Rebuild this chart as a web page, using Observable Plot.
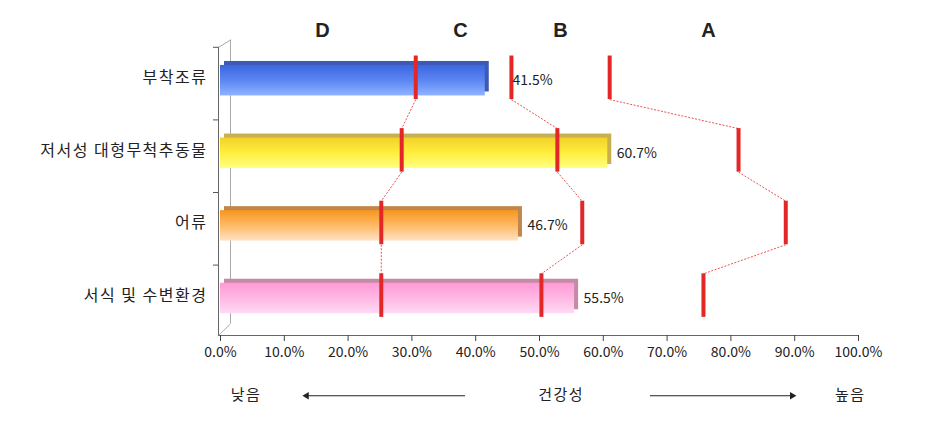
<!DOCTYPE html>
<html><head><meta charset="utf-8">
<script src="https://cdn.jsdelivr.net/npm/d3@7"></script>
<script src="https://cdn.jsdelivr.net/npm/@observablehq/plot@0.6"></script>
<style>
body{margin:0;background:#fff}
#chart svg{display:block}
#chart g[aria-label="y-axis tick label"] text{letter-spacing:1.5px}
#chart g.bottom-label text{letter-spacing:1.5px}
</style>
</head><body><div id="chart"></div>
<script>
// ---- data ----
const categories = ["부착조류", "저서성 대형무척추동물", "어류", "서식 및 수변환경"];
const values = [41.5, 60.7, 46.7, 55.5];
const boundDC = [30.6, 28.4, 25.2, 25.2];
const boundCB = [45.6, 52.8, 56.7, 50.3];
const boundBA = [61.0, 81.2, 88.6, 75.7];
const grades = ["D", "C", "B", "A"];
const gradeX = [16, 37.6, 53.3, 76.5];
const xTicks = [0, 10, 20, 30, 40, 50, 60, 70, 80, 90, 100];
const bottomLabels = ["낮음", "건강성", "높음"];
const bottomLabelX = [4.0, 53.4, 98.7];
const arrowLeft = [38.4, 13.5];
const arrowRight = [67.4, 89.6];

// ---- styles ----
const gradStops = [
  ["#3a66e0", "#5b86f2", "#90b2ff"],
  ["#f3d22a", "#ffee3c", "#ffff84"],
  ["#f7961e", "#ffb964", "#ffe2c6"],
  ["#ff9ad4", "#ffb8e4", "#ffdaf4"]
];
const sideColor = ["#3f5ab5", "#c9b04e", "#c0864a", "#c48aa6"];
const red = "#e32626";
const font = "'Noto Sans CJK KR', 'Noto Sans', sans-serif";

const rows = categories.map((c, i) => ({cat: c, i, value: values[i]}));
const bounds = [boundDC, boundCB, boundBA];
// keep a value label clear of a grade marker sitting just past the bar end
const labelX = d => {
  const b = boundCB[d.i];
  return (b > d.value && b - d.value < 6) ? b - 1.25 : d.value;
};

const marks = [];
// 3D wall
marks.push(Plot.ruleX([0], {y1: -0.52, y2: 3.39, dx: 10, stroke: "#aaa", strokeWidth: 1}));
marks.push(Plot.link([0], {x1: -0.3, y1: -0.42, x2: 1.57, y2: -0.52, stroke: "#aaa"}));
marks.push(Plot.link([0], {x1: -0.3, y1: 3.55, x2: 1.57, y2: 3.39, stroke: "#aaa"}));
marks.push(Plot.ruleX([0], {y1: -0.42, y2: 3.55, dx: -2, stroke: "#666", strokeWidth: 1}));
marks.push(Plot.ruleY([3.55], {x1: -0.3, x2: 100, stroke: "#666", strokeWidth: 1}));

// bars (back face offset for 3D look, then gradient front)
rows.forEach((r, i) => {
  marks.push(Plot.rectX([r], {x1: 0, x2: "value", y1: d => d.i - 0.17, y2: d => d.i + 0.25, dx: 4, dy: -4, fill: sideColor[i]}));
  marks.push(Plot.rectX([r], {x1: 0, x2: "value", y1: d => d.i - 0.17, y2: d => d.i + 0.25, fill: `url(#grad${i})`}));
});

// dashed connectors
bounds.forEach(b => {
  const segs = b.slice(0, -1).map((v, i) => ({x1: v, x2: b[i + 1], y1: i + 0.3, y2: i + 0.7}));
  marks.push(Plot.link(segs, {x1: "x1", x2: "x2", y1: "y1", y2: "y2", stroke: red, strokeWidth: 0.8, strokeDasharray: "2,1.5"}));
});
// red markers
bounds.forEach(b => {
  marks.push(Plot.ruleX(b.map((v, i) => ({v, i})), {x: "v", y1: d => d.i - 0.3, y2: d => d.i + 0.3, stroke: red, strokeWidth: 4}));
});

// value labels
marks.push(Plot.text(rows, {x: labelX, y: "i", text: d => d.value.toFixed(1) + "%", textAnchor: "start", dx: 9, dy: 3, fontSize: 14, fill: "#222"}));

// grade letters
marks.push(Plot.text(grades, {x: (d, i) => gradeX[i], text: d => d, frameAnchor: "top", lineAnchor: "middle", dy: -11, fontSize: 20, fontWeight: "bold", fontFamily: "'Liberation Sans', Arial, sans-serif", fill: "#222"}));

// axes
marks.push(Plot.axisX({ticks: xTicks, tickFormat: d => d.toFixed(1) + "%", tickSize: 6, tickPadding: 6, fontSize: 14, stroke: "#444", fill: "#222", label: null}));
marks.push(Plot.axisY({ticks: [0, 1, 2, 3], tickFormat: i => categories[i], tickSize: 0, tickPadding: 13, fontSize: 16, fill: "#222", label: null}));
marks.push(Plot.axisY({ticks: [-0.42, 0.58, 1.58, 2.58], tickFormat: () => "", tickSize: 5, dx: -2, stroke: "#555", label: null}));

// bottom annotation
marks.push(Plot.text(bottomLabels, {x: (d, i) => bottomLabelX[i], text: d => d, frameAnchor: "bottom", lineAnchor: "middle", dy: 60, fontSize: 15, fill: "#222", className: "bottom-label"}));
marks.push(Plot.ruleY([4.38], {x1: arrowLeft[0], x2: arrowLeft[1], stroke: "#222", strokeWidth: 1}));
marks.push(Plot.ruleY([4.38], {x1: arrowRight[0], x2: arrowRight[1], stroke: "#222", strokeWidth: 1}));
marks.push(Plot.dot([arrowLeft[1]], {x: d => d, y: 4.38, symbol: "triangle2", r: 3.5, rotate: -90, fill: "#222"}));
marks.push(Plot.dot([arrowRight[1]], {x: d => d, y: 4.38, symbol: "triangle2", r: 3.5, rotate: 90, fill: "#222"}));

const chart = Plot.plot({
  width: 935,
  height: 437,
  marginLeft: 220,
  marginRight: 77,
  marginTop: 41,
  marginBottom: 102,
  style: {fontFamily: font, background: "#fff", overflow: "visible"},
  x: {domain: [0, 100]},
  y: {domain: [-0.5, 3.55], reverse: true},
  marks
});

const svg = d3.select(chart);
const defs = svg.insert("defs", ":first-child");
gradStops.forEach((stops, i) => {
  const g = defs.append("linearGradient").attr("id", "grad" + i)
    .attr("x1", 0).attr("y1", 0).attr("x2", 0).attr("y2", 1);
  stops.forEach((c, k) => g.append("stop").attr("offset", (k * 50) + "%").attr("stop-color", c));
});

document.getElementById("chart").appendChild(chart);
</script>
</body></html>
